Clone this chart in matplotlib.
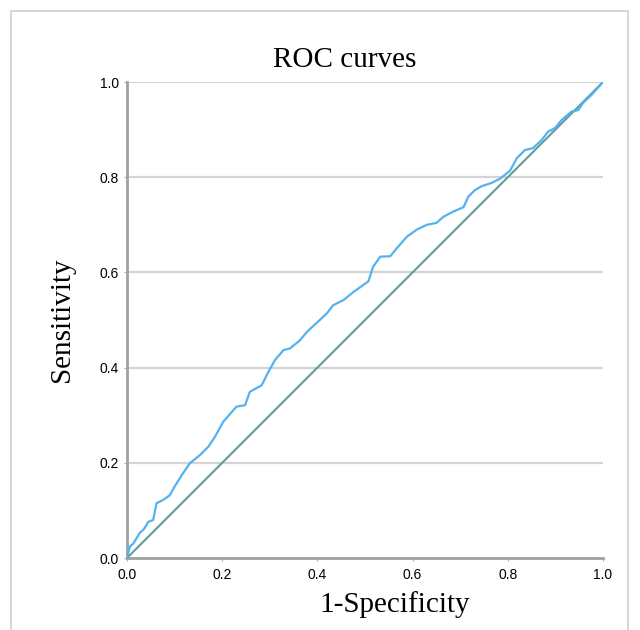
import matplotlib
matplotlib.use('Agg')
import matplotlib.pyplot as plt
from matplotlib.patches import Rectangle

# ROC curve
fpr = [0.0, 0.006, 0.013, 0.027, 0.035, 0.045, 0.055, 0.062, 0.076, 0.09,
       0.10, 0.115, 0.132, 0.153, 0.171, 0.185, 0.202, 0.23, 0.248, 0.258,
       0.283, 0.297, 0.311, 0.329, 0.342, 0.363, 0.378, 0.405, 0.42, 0.433,
       0.455, 0.476, 0.497, 0.507, 0.517, 0.532, 0.553, 0.567, 0.588, 0.609,
       0.63, 0.65, 0.665, 0.686, 0.707, 0.717, 0.731, 0.745, 0.766, 0.784,
       0.805, 0.819, 0.836, 0.853, 0.871, 0.885, 0.899, 0.913, 0.934, 0.948,
       0.958, 0.976, 1.0]
tpr = [0.0, 0.024, 0.03, 0.053, 0.06, 0.076, 0.080, 0.115, 0.122, 0.132,
       0.15, 0.174, 0.199, 0.216, 0.234, 0.255, 0.286, 0.318, 0.321, 0.349,
       0.363, 0.391, 0.416, 0.437, 0.44, 0.457, 0.475, 0.5, 0.514, 0.531,
       0.542, 0.559, 0.574, 0.581, 0.612, 0.633, 0.634, 0.651, 0.675, 0.69,
       0.70, 0.704, 0.717, 0.728, 0.737, 0.759, 0.773, 0.781, 0.788, 0.797,
       0.814, 0.84, 0.857, 0.861, 0.878, 0.896, 0.903, 0.92, 0.938, 0.941,
       0.956, 0.973, 1.0]
ref_line = [0.0, 1.0]
ticks = [0.0, 0.2, 0.4, 0.6, 0.8, 1.0]
tick_labels = ['0.0', '0.2', '0.4', '0.6', '0.8', '1.0']

fig = plt.figure(figsize=(6.4, 6.3), dpi=100)
ax = fig.add_axes([127 / 640, 72 / 630, 476 / 640, 476 / 630])

# outer frame
fig.patches.append(Rectangle((11 / 640, -0.05), 617 / 640, 1.05 - 11 / 630,
                             transform=fig.transFigure, fill=False,
                             edgecolor='#cfcfcf', linewidth=1.2))

for y in ticks[1:]:
    ax.axhline(y, color='#d4d4d4', linewidth=1.6, zorder=1)

ax.plot(ref_line, ref_line, color='#5f9e99', linewidth=1.5, zorder=3)
ax.plot(fpr, tpr, color='#55b1f0', linewidth=1.6, zorder=4)

ax.set_xlim(0, 1)
ax.set_ylim(0, 1)
ax.set_xticks(ticks)
ax.set_yticks(ticks)
ax.set_xticklabels(tick_labels, fontfamily='Liberation Sans', fontsize=10)
ax.set_yticklabels(tick_labels, fontfamily='Liberation Sans', fontsize=10)
ax.tick_params(axis='x', length=2, width=0.8, color='#aaaaaa', pad=5)
ax.tick_params(axis='y', length=2, width=0.8, color='#aaaaaa', pad=4)

for side in ['top', 'right']:
    ax.spines[side].set_visible(False)
for side in ['left', 'bottom']:
    ax.spines[side].set_color('#a0a0a0')
    ax.spines[side].set_linewidth(2)

fig.text(344.5 / 640, 1 - 67 / 630, 'ROC curves', ha='center', va='baseline',
         fontfamily='Liberation Serif', fontsize=21)
fig.text(395 / 640, 1 - 612 / 630, '1-Specificity', ha='center', va='baseline',
         fontfamily='Liberation Serif', fontsize=21)
fig.text(62 / 640, 1 - 320 / 630, 'Sensitivity', ha='center', va='center',
         rotation=90, fontfamily='Liberation Serif', fontsize=21)

fig.savefig('out.png', dpi=100)
